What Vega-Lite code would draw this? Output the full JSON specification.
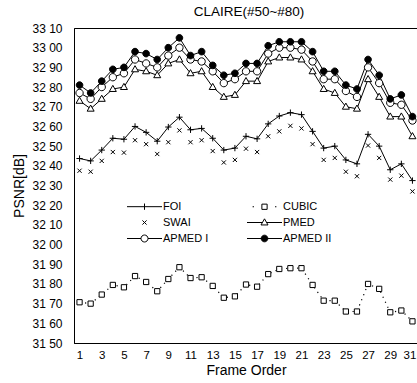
{
"$schema": "https://vega.github.io/schema/vega-lite/v6.json",
"width": 344, "height": 315,
"autosize": "none",
"padding": {"left": 74, "top": 28, "right": 0, "bottom": 40},
"background": "white",
"config": {
  "font": "Liberation Sans",
  "view": {"stroke": "black", "strokeWidth": 1},
  "axis": {"domainColor": "black", "labelColor": "black", "titleColor": "black", "grid": false, "ticks": false, "titleFontWeight": "normal"},
  "legend": {"orient": "none", "direction": "horizontal", "legendX": 65, "legendY": 173, "columns": 2, "gridAlign": "all", "columnPadding": 33, "rowPadding": 4, "symbolSize": 49, "labelOffset": 13, "labelFontSize": 11, "labelColor": "black", "padding": 0, "symbolStrokeColor": "black", "symbolStrokeWidth": 1, "symbolOpacity": 1}
},
"title": {"text": "CLAIRE(#50~#80)", "fontSize": 13.5, "fontWeight": "normal", "offset": 4, "dx": 3, "color": "black", "font": "Liberation Sans"},
"data": {"values": [
{"f":1,"s":"FOI","v":32.437},{"f":2,"s":"FOI","v":32.425},{"f":3,"s":"FOI","v":32.48},{"f":4,"s":"FOI","v":32.54},{"f":5,"s":"FOI","v":32.535},{"f":6,"s":"FOI","v":32.60},{"f":7,"s":"FOI","v":32.57},{"f":8,"s":"FOI","v":32.525},{"f":9,"s":"FOI","v":32.597},{"f":10,"s":"FOI","v":32.647},{"f":11,"s":"FOI","v":32.583},{"f":12,"s":"FOI","v":32.59},{"f":13,"s":"FOI","v":32.54},{"f":14,"s":"FOI","v":32.48},{"f":15,"s":"FOI","v":32.49},{"f":16,"s":"FOI","v":32.55},{"f":17,"s":"FOI","v":32.537},{"f":18,"s":"FOI","v":32.613},{"f":19,"s":"FOI","v":32.653},{"f":20,"s":"FOI","v":32.67},{"f":21,"s":"FOI","v":32.66},{"f":22,"s":"FOI","v":32.575},{"f":23,"s":"FOI","v":32.49},{"f":24,"s":"FOI","v":32.50},{"f":25,"s":"FOI","v":32.43},{"f":26,"s":"FOI","v":32.41},{"f":27,"s":"FOI","v":32.56},{"f":28,"s":"FOI","v":32.50},{"f":29,"s":"FOI","v":32.38},{"f":30,"s":"FOI","v":32.41},{"f":31,"s":"FOI","v":32.325},
{"f":1,"s":"CUBIC","v":31.707},{"f":2,"s":"CUBIC","v":31.70},{"f":3,"s":"CUBIC","v":31.746},{"f":4,"s":"CUBIC","v":31.795},{"f":5,"s":"CUBIC","v":31.783},{"f":6,"s":"CUBIC","v":31.84},{"f":7,"s":"CUBIC","v":31.81},{"f":8,"s":"CUBIC","v":31.763},{"f":9,"s":"CUBIC","v":31.825},{"f":10,"s":"CUBIC","v":31.885},{"f":11,"s":"CUBIC","v":31.83},{"f":12,"s":"CUBIC","v":31.834},{"f":13,"s":"CUBIC","v":31.79},{"f":14,"s":"CUBIC","v":31.73},{"f":15,"s":"CUBIC","v":31.737},{"f":16,"s":"CUBIC","v":31.797},{"f":17,"s":"CUBIC","v":31.786},{"f":18,"s":"CUBIC","v":31.85},{"f":19,"s":"CUBIC","v":31.876},{"f":20,"s":"CUBIC","v":31.88},{"f":21,"s":"CUBIC","v":31.88},{"f":22,"s":"CUBIC","v":31.795},{"f":23,"s":"CUBIC","v":31.715},{"f":24,"s":"CUBIC","v":31.715},{"f":25,"s":"CUBIC","v":31.66},{"f":26,"s":"CUBIC","v":31.66},{"f":27,"s":"CUBIC","v":31.80},{"f":28,"s":"CUBIC","v":31.775},{"f":29,"s":"CUBIC","v":31.656},{"f":30,"s":"CUBIC","v":31.665},{"f":31,"s":"CUBIC","v":31.61},
{"f":1,"s":"SWAI","v":32.375},{"f":2,"s":"SWAI","v":32.37},{"f":3,"s":"SWAI","v":32.425},{"f":4,"s":"SWAI","v":32.47},{"f":5,"s":"SWAI","v":32.467},{"f":6,"s":"SWAI","v":32.53},{"f":7,"s":"SWAI","v":32.51},{"f":8,"s":"SWAI","v":32.46},{"f":9,"s":"SWAI","v":32.52},{"f":10,"s":"SWAI","v":32.58},{"f":11,"s":"SWAI","v":32.52},{"f":12,"s":"SWAI","v":32.53},{"f":13,"s":"SWAI","v":32.475},{"f":14,"s":"SWAI","v":32.417},{"f":15,"s":"SWAI","v":32.43},{"f":16,"s":"SWAI","v":32.487},{"f":17,"s":"SWAI","v":32.47},{"f":18,"s":"SWAI","v":32.55},{"f":19,"s":"SWAI","v":32.575},{"f":20,"s":"SWAI","v":32.603},{"f":21,"s":"SWAI","v":32.59},{"f":22,"s":"SWAI","v":32.51},{"f":23,"s":"SWAI","v":32.43},{"f":24,"s":"SWAI","v":32.44},{"f":25,"s":"SWAI","v":32.37},{"f":26,"s":"SWAI","v":32.347},{"f":27,"s":"SWAI","v":32.503},{"f":28,"s":"SWAI","v":32.44},{"f":29,"s":"SWAI","v":32.33},{"f":30,"s":"SWAI","v":32.35},{"f":31,"s":"SWAI","v":32.27},
{"f":1,"s":"PMED","v":32.73},{"f":2,"s":"PMED","v":32.69},{"f":3,"s":"PMED","v":32.74},{"f":4,"s":"PMED","v":32.79},{"f":5,"s":"PMED","v":32.80},{"f":6,"s":"PMED","v":32.89},{"f":7,"s":"PMED","v":32.88},{"f":8,"s":"PMED","v":32.86},{"f":9,"s":"PMED","v":32.92},{"f":10,"s":"PMED","v":32.94},{"f":11,"s":"PMED","v":32.87},{"f":12,"s":"PMED","v":32.88},{"f":13,"s":"PMED","v":32.80},{"f":14,"s":"PMED","v":32.75},{"f":15,"s":"PMED","v":32.76},{"f":16,"s":"PMED","v":32.83},{"f":17,"s":"PMED","v":32.83},{"f":18,"s":"PMED","v":32.93},{"f":19,"s":"PMED","v":32.95},{"f":20,"s":"PMED","v":32.95},{"f":21,"s":"PMED","v":32.94},{"f":22,"s":"PMED","v":32.88},{"f":23,"s":"PMED","v":32.79},{"f":24,"s":"PMED","v":32.77},{"f":25,"s":"PMED","v":32.70},{"f":26,"s":"PMED","v":32.69},{"f":27,"s":"PMED","v":32.84},{"f":28,"s":"PMED","v":32.75},{"f":29,"s":"PMED","v":32.65},{"f":30,"s":"PMED","v":32.65},{"f":31,"s":"PMED","v":32.55},
{"f":1,"s":"APMED I","v":32.77},{"f":2,"s":"APMED I","v":32.74},{"f":3,"s":"APMED I","v":32.80},{"f":4,"s":"APMED I","v":32.85},{"f":5,"s":"APMED I","v":32.87},{"f":6,"s":"APMED I","v":32.94},{"f":7,"s":"APMED I","v":32.92},{"f":8,"s":"APMED I","v":32.90},{"f":9,"s":"APMED I","v":32.96},{"f":10,"s":"APMED I","v":33.00},{"f":11,"s":"APMED I","v":32.94},{"f":12,"s":"APMED I","v":32.93},{"f":13,"s":"APMED I","v":32.88},{"f":14,"s":"APMED I","v":32.82},{"f":15,"s":"APMED I","v":32.84},{"f":16,"s":"APMED I","v":32.88},{"f":17,"s":"APMED I","v":32.88},{"f":18,"s":"APMED I","v":32.97},{"f":19,"s":"APMED I","v":33.00},{"f":20,"s":"APMED I","v":33.00},{"f":21,"s":"APMED I","v":32.99},{"f":22,"s":"APMED I","v":32.93},{"f":23,"s":"APMED I","v":32.84},{"f":24,"s":"APMED I","v":32.84},{"f":25,"s":"APMED I","v":32.78},{"f":26,"s":"APMED I","v":32.75},{"f":27,"s":"APMED I","v":32.90},{"f":28,"s":"APMED I","v":32.82},{"f":29,"s":"APMED I","v":32.72},{"f":30,"s":"APMED I","v":32.71},{"f":31,"s":"APMED I","v":32.63},
{"f":1,"s":"APMED II","v":32.81},{"f":2,"s":"APMED II","v":32.77},{"f":3,"s":"APMED II","v":32.83},{"f":4,"s":"APMED II","v":32.89},{"f":5,"s":"APMED II","v":32.90},{"f":6,"s":"APMED II","v":32.98},{"f":7,"s":"APMED II","v":32.97},{"f":8,"s":"APMED II","v":32.94},{"f":9,"s":"APMED II","v":33.00},{"f":10,"s":"APMED II","v":33.05},{"f":11,"s":"APMED II","v":32.96},{"f":12,"s":"APMED II","v":32.98},{"f":13,"s":"APMED II","v":32.91},{"f":14,"s":"APMED II","v":32.86},{"f":15,"s":"APMED II","v":32.87},{"f":16,"s":"APMED II","v":32.92},{"f":17,"s":"APMED II","v":32.92},{"f":18,"s":"APMED II","v":33.01},{"f":19,"s":"APMED II","v":33.03},{"f":20,"s":"APMED II","v":33.03},{"f":21,"s":"APMED II","v":33.03},{"f":22,"s":"APMED II","v":32.98},{"f":23,"s":"APMED II","v":32.88},{"f":24,"s":"APMED II","v":32.88},{"f":25,"s":"APMED II","v":32.81},{"f":26,"s":"APMED II","v":32.79},{"f":27,"s":"APMED II","v":32.94},{"f":28,"s":"APMED II","v":32.86},{"f":29,"s":"APMED II","v":32.74},{"f":30,"s":"APMED II","v":32.76},{"f":31,"s":"APMED II","v":32.65}
]},
"encoding": {
  "x": {"field": "f", "type": "quantitative", "scale": {"domain": [0.5, 31.5], "nice": false, "zero": false},
        "axis": {"values": [1,3,5,7,9,11,13,15,17,19,21,23,25,27,29,31], "title": "Frame Order", "labelFontSize": 11.5, "titleFontSize": 14, "labelPadding": 6, "titlePadding": 3,
                 "labelOffset": {"condition": {"test": "datum.value == 31", "value": -3}, "value": 0}}},
  "y": {"field": "v", "type": "quantitative", "scale": {"domain": [31.5, 33.1], "nice": false, "zero": false},
        "axis": {"values": [31.5,31.6,31.7,31.8,31.9,32.0,32.1,32.2,32.3,32.4,32.5,32.6,32.7,32.8,32.9,33.0,33.1], "labelExpr": "replace(format(datum.value, '.2f'), '.', ' ')", "title": "PSNR[dB]", "labelFontSize": 12, "titleFontSize": 14, "labelPadding": 12, "titlePadding": 5}}
},
"layer": [
  {"transform": [{"filter": {"field": "s", "oneOf": ["FOI", "PMED", "APMED I", "APMED II"]}}],
   "mark": {"type": "line", "color": "black", "strokeWidth": 1},
   "encoding": {"detail": {"field": "s"}}},
  {"transform": [{"filter": {"field": "s", "equal": "CUBIC"}}],
   "mark": {"type": "line", "color": "black", "strokeWidth": 1.2, "strokeDash": [1.2, 4.3]},
   "encoding": {}},
  {"mark": {"type": "point", "filled": true, "stroke": "black", "strokeWidth": 1, "size": 49, "opacity": 1},
   "encoding": {
     "shape": {"field": "s", "scale": {"domain": ["FOI","CUBIC","SWAI","PMED","APMED I","APMED II"],
        "range": ["M-0.9,0H0.9M0,-0.9V0.9", "M-0.75,-0.75H0.75V0.75H-0.75Z", "M-0.6,-0.6L0.6,0.6M-0.6,0.6L0.6,-0.6", "M0,-1.05L1,0.7H-1Z", "M-1.05,0A1.05,1.05 0 1,0 1.05,0A1.05,1.05 0 1,0 -1.05,0Z", "M-0.95,0A0.95,0.95 0 1,0 0.95,0A0.95,0.95 0 1,0 -0.95,0Z"]}, "legend": null},
     "fill": {"field": "s", "scale": {"domain": ["FOI","CUBIC","SWAI","PMED","APMED I","APMED II"], "range": ["black","white","black","white","white","black"]}, "legend": null}
   }},
  {"transform": [{"filter": {"field": "f", "equal": 1}}],
   "mark": {"type": "point", "filled": true, "stroke": "black", "strokeWidth": 1, "opacity": 0},
   "encoding": {
     "shape": {"field": "s", "title": null, "scale": {"domain": ["FOI","CUBIC","SWAI","PMED","APMED I","APMED II"],
        "range": ["M-5,0H5M0,-0.9V0.9", "M-3.4,0H-3M3,0H3.4M-0.75,-0.75H0.75V0.75H-0.75Z", "M-0.6,-0.6L0.6,0.6M-0.6,0.6L0.6,-0.6", "M-5,0H-0.6M0.6,0H5M0,-1.05L1,0.7H-1Z", "M-5,0H-1M1,0H5M-1,0A1,1 0 1,0 1,0A1,1 0 1,0 -1,0Z", "M-5,0H5M-0.95,0A0.95,0.95 0 1,0 0.95,0A0.95,0.95 0 1,0 -0.95,0Z"]},
        "legend": {"title": null, "encode": {"symbols": {"update": {"opacity": {"value": 1}, "strokeOpacity": {"value": 1}, "fillOpacity": {"value": 1}, "stroke": {"value": "black"}, "strokeWidth": {"value": 1}}}}}},
     "fill": {"field": "s", "title": null, "scale": {"domain": ["FOI","CUBIC","SWAI","PMED","APMED I","APMED II"], "range": ["black","white","black","white","white","black"]},
        "legend": {"title": null, "encode": {"symbols": {"update": {"opacity": {"value": 1}, "strokeOpacity": {"value": 1}, "fillOpacity": {"value": 1}, "stroke": {"value": "black"}, "strokeWidth": {"value": 1}}}}}}
   }}
],
"resolve": {"scale": {"shape": "independent", "fill": "independent"}}
}
